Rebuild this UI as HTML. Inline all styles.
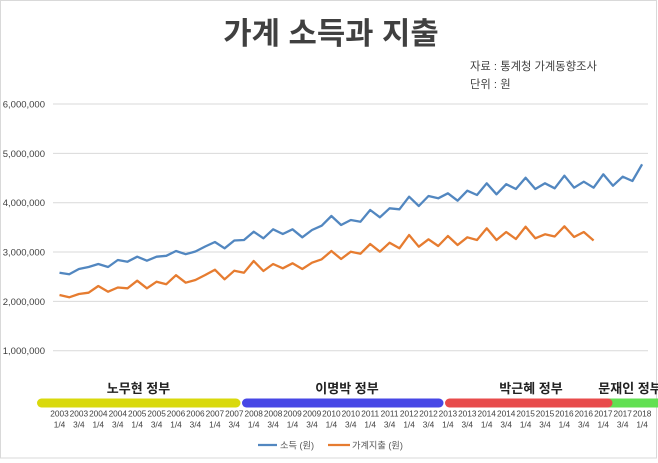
<!DOCTYPE html>
<html><head><meta charset="utf-8"><style>
html,body{margin:0;padding:0;background:#fff;width:658px;height:463px;overflow:hidden}
svg{display:block}
text{font-family:"Liberation Sans","Noto Sans CJK KR",sans-serif}
</style></head><body>
<svg width="658" height="463" viewBox="0 0 658 463" xmlns="http://www.w3.org/2000/svg">
<rect x="0" y="0" width="658" height="463" fill="#fff"/>
<rect x="0.5" y="0.5" width="656" height="457.5" fill="none" stroke="#d9d9d9" stroke-width="1"/>
<text x="331" y="44" text-anchor="middle" font-size="30.8" font-weight="bold" fill="#404040">가계 소득과 지출</text>
<text x="470" y="70" font-size="11.3" fill="#404040">자료 : 통계청 가계동향조사</text>
<text x="470" y="88" font-size="11.3" fill="#404040">단위 : 원</text>
<g stroke="#d9d9d9" stroke-width="1">
<line x1="53" y1="104" x2="648" y2="104"/>
<line x1="53" y1="153.4" x2="648" y2="153.4"/>
<line x1="53" y1="202.7" x2="648" y2="202.7"/>
<line x1="53" y1="252" x2="648" y2="252"/>
<line x1="53" y1="301.4" x2="648" y2="301.4"/>
<line x1="53" y1="350.7" x2="648" y2="350.7"/>
</g>
<g font-size="9.5" fill="#404040" text-anchor="end">
<text x="45" y="107.5">6,000,000</text>
<text x="45" y="156.9">5,000,000</text>
<text x="45" y="206.2">4,000,000</text>
<text x="45" y="255.5">3,000,000</text>
<text x="45" y="304.9">2,000,000</text>
<text x="45" y="354.2">1,000,000</text>
</g>
<polyline fill="none" stroke="#5287c0" stroke-width="2.3" stroke-linejoin="round" points="59.5,272.7 69.2,274.3 78.9,269 88.6,267 98.3,264 108.1,267 117.8,260 127.5,261.7 137.2,256.7 146.9,260.7 156.6,256.7 166.3,255.8 176,251 185.7,254.2 195.4,251.5 205.2,246.5 214.9,242 224.6,248.3 234.3,240.5 244,240 253.7,231.7 263.4,238.3 273.1,229.3 282.8,234 292.5,229.3 302.3,237.3 312,230 321.7,225.7 331.4,216 341.1,225 350.8,220 360.5,221.7 370.2,210 379.9,217.3 389.6,208.3 399.4,209.3 409.1,196.7 418.8,206 428.5,196 438.2,198.3 447.9,193.3 457.6,200.7 467.3,190.7 477,195 486.7,183.3 496.5,194.3 506.2,184.2 515.9,189 525.6,177.7 535.3,189 545,183.3 554.7,188.3 564.4,175.7 574.1,187.7 583.8,181.7 593.6,187.7 603.3,174.3 613,185.7 622.7,176.7 632.4,181 642.1,164.3"/>
<polyline fill="none" stroke="#e67c30" stroke-width="2.3" stroke-linejoin="round" points="59.5,295 69.2,297.3 78.9,294 88.6,292.7 98.3,286 108.1,291.7 117.8,287.5 127.5,288.3 137.2,280.7 146.9,288.3 156.6,281.7 166.3,284.2 176,275.2 185.7,282.7 195.4,280 205.2,275 214.9,269.7 224.6,279.3 234.3,270.7 244,272.7 253.7,261 263.4,271 273.1,264 282.8,268.3 292.5,263.3 302.3,269 312,262.7 321.7,259.3 331.4,251 341.1,259 350.8,251.7 360.5,253.7 370.2,244 379.9,251.7 389.6,242.7 399.4,248.3 409.1,235 418.8,246.7 428.5,239.3 438.2,246 447.9,236 457.6,245 467.3,237.3 477,240 486.7,228.3 496.5,240 506.2,232 515.9,239 525.6,226.7 535.3,238.3 545,234.3 554.7,236.5 564.4,226.3 574.1,237 583.8,232 593.6,240.5"/>
<rect x="608" y="398.5" width="50" height="9" fill="#62e052"/>
<line x1="41.5" y1="403" x2="236" y2="403" stroke="#d9d90c" stroke-width="9" stroke-linecap="round"/>
<line x1="246.5" y1="403" x2="439" y2="403" stroke="#4747e6" stroke-width="9" stroke-linecap="round"/>
<line x1="449.5" y1="403" x2="608" y2="403" stroke="#e84b4b" stroke-width="9" stroke-linecap="round"/>
<g font-size="13" font-weight="bold" fill="#222" text-anchor="middle">
<text x="138.5" y="393">노무현 정부</text>
<text x="347" y="393">이명박 정부</text>
<text x="531" y="393">박근혜 정부</text>
<text x="630" y="393">문재인 정부</text>
</g>
<g font-size="8.3" fill="#404040" text-anchor="middle">
<text x="59.5" y="416.5">2003</text><text x="59.5" y="427.5">1/4</text>
<text x="78.9" y="416.5">2003</text><text x="78.9" y="427.5">3/4</text>
<text x="98.3" y="416.5">2004</text><text x="98.3" y="427.5">1/4</text>
<text x="117.8" y="416.5">2004</text><text x="117.8" y="427.5">3/4</text>
<text x="137.2" y="416.5">2005</text><text x="137.2" y="427.5">1/4</text>
<text x="156.6" y="416.5">2005</text><text x="156.6" y="427.5">3/4</text>
<text x="176" y="416.5">2006</text><text x="176" y="427.5">1/4</text>
<text x="195.4" y="416.5">2006</text><text x="195.4" y="427.5">3/4</text>
<text x="214.9" y="416.5">2007</text><text x="214.9" y="427.5">1/4</text>
<text x="234.3" y="416.5">2007</text><text x="234.3" y="427.5">3/4</text>
<text x="253.7" y="416.5">2008</text><text x="253.7" y="427.5">1/4</text>
<text x="273.1" y="416.5">2008</text><text x="273.1" y="427.5">3/4</text>
<text x="292.5" y="416.5">2009</text><text x="292.5" y="427.5">1/4</text>
<text x="312" y="416.5">2009</text><text x="312" y="427.5">3/4</text>
<text x="331.4" y="416.5">2010</text><text x="331.4" y="427.5">1/4</text>
<text x="350.8" y="416.5">2010</text><text x="350.8" y="427.5">3/4</text>
<text x="370.2" y="416.5">2011</text><text x="370.2" y="427.5">1/4</text>
<text x="389.6" y="416.5">2011</text><text x="389.6" y="427.5">3/4</text>
<text x="409.1" y="416.5">2012</text><text x="409.1" y="427.5">1/4</text>
<text x="428.5" y="416.5">2012</text><text x="428.5" y="427.5">3/4</text>
<text x="447.9" y="416.5">2013</text><text x="447.9" y="427.5">1/4</text>
<text x="467.3" y="416.5">2013</text><text x="467.3" y="427.5">3/4</text>
<text x="486.7" y="416.5">2014</text><text x="486.7" y="427.5">1/4</text>
<text x="506.2" y="416.5">2014</text><text x="506.2" y="427.5">3/4</text>
<text x="525.6" y="416.5">2015</text><text x="525.6" y="427.5">1/4</text>
<text x="545" y="416.5">2015</text><text x="545" y="427.5">3/4</text>
<text x="564.4" y="416.5">2016</text><text x="564.4" y="427.5">1/4</text>
<text x="583.8" y="416.5">2016</text><text x="583.8" y="427.5">3/4</text>
<text x="603.3" y="416.5">2017</text><text x="603.3" y="427.5">1/4</text>
<text x="622.7" y="416.5">2017</text><text x="622.7" y="427.5">3/4</text>
<text x="642.1" y="416.5">2018</text><text x="642.1" y="427.5">1/4</text>
</g>
<line x1="258" y1="445" x2="277" y2="445" stroke="#5287c0" stroke-width="2.3"/>
<text x="280" y="448.3" font-size="9.2" fill="#595959">소득 (원)</text>
<line x1="328" y1="445" x2="350" y2="445" stroke="#e67c30" stroke-width="2.3"/>
<text x="352" y="448.3" font-size="9.2" fill="#595959">가계지출 (원)</text>
</svg>
</body></html>
